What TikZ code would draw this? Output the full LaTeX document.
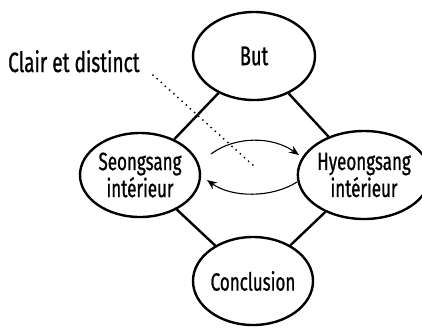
\documentclass[tikz,border=0pt]{standalone}
\usepackage{fontspec}
\setmainfont{Fira Sans}[FakeStretch=0.68, FakeBold=0.8]
\usetikzlibrary{arrows.meta,shapes.geometric}
\begin{document}
\begin{tikzpicture}[x=1pt,y=-1pt,
  phase/.style={draw, line width=2.4pt, ellipse, minimum width=#1, align=center, inner sep=0pt, font=\fontsize{25}{27}\selectfont},
  link/.style={line width=2.4pt},
  flow/.style={line width=1.1pt, -{Stealth[length=10pt,width=8pt]}},
  hint/.style={line width=2pt, line cap=round, dash pattern=on 0pt off 5.6pt}]
\useasboundingbox (0,0) rectangle (422,330);
\node[phase=122pt, minimum height=88pt, font=\fontsize{27}{29}\selectfont] (but) at (254,56) {But};
\node[phase=120pt, minimum height=84pt] (seong) at (140,175) {Seongsang\\intérieur};
\node[phase=116pt, minimum height=88pt] (hyeong) at (364,175) {Hyeongsang\\intérieur};
\node[phase=120pt, minimum height=88pt, font=\fontsize{25}{28}\selectfont] (concl) at (253,281) {Conclusion};
\draw[link] (but) -- (seong);
\draw[link] (but) -- (hyeong);
\draw[link] (seong) -- (concl);
\draw[link] (hyeong) -- (concl);
\coordinate (ts) at (211,154);
\coordinate (te) at (299,155);
\coordinate (bs) at (297,182);
\coordinate (be) at (207,180);
\draw[flow] (ts) .. controls (235,136) and (272,136) .. (te);
\draw[flow] (bs) .. controls (272,198) and (232,198) .. (be);
\node[anchor=base west, inner sep=0pt, font=\fontsize{28}{30}\selectfont] (label) at (8,72) {Clair et distinct};
\coordinate (dstart) at (153,75);
\coordinate (dend) at (255,167);
\draw[hint] (dstart) -- (dend);
\end{tikzpicture}
\end{document}
